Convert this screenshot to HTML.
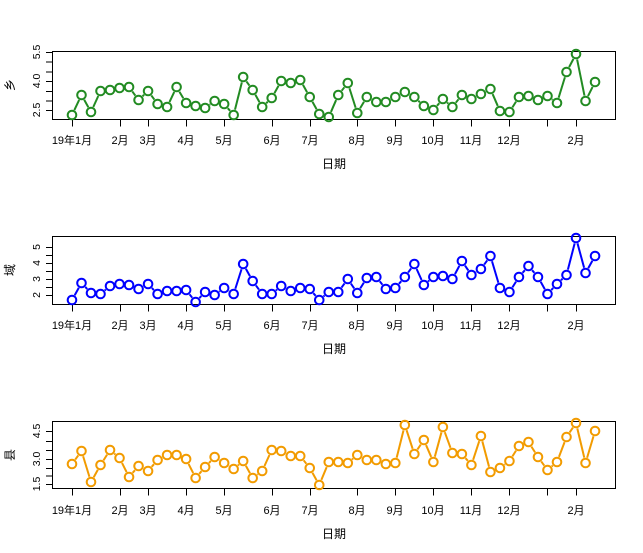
<!DOCTYPE html>
<html><head><meta charset="utf-8"><style>
body{margin:0;background:#fff}
svg{display:block;font-family:"Liberation Sans","Noto Sans CJK SC",sans-serif}
</style></head><body>
<svg id="s" width="643" height="553" xmlns="http://www.w3.org/2000/svg">
<g fill="none" stroke="#000" stroke-width="1">
<rect x="52.5" y="51.5" width="563" height="68"/>
<rect x="52.5" y="236.5" width="563" height="68"/>
<rect x="52.5" y="421.5" width="563" height="67"/>
</g>
<g id="ticks" stroke="#000"></g>
<g font-size="11" fill="#000" text-anchor="middle">
<text x="72" y="144">19年1月</text><text x="120" y="144">2月</text><text x="148" y="144">3月</text><text x="186" y="144">4月</text><text x="224" y="144">5月</text><text x="272" y="144">6月</text><text x="310" y="144">7月</text><text x="357" y="144">8月</text><text x="395" y="144">9月</text><text x="433" y="144">10月</text><text x="471" y="144">11月</text><text x="509" y="144">12月</text><text x="576" y="144">2月</text>
<text x="72" y="329">19年1月</text><text x="120" y="329">2月</text><text x="148" y="329">3月</text><text x="186" y="329">4月</text><text x="224" y="329">5月</text><text x="272" y="329">6月</text><text x="310" y="329">7月</text><text x="357" y="329">8月</text><text x="395" y="329">9月</text><text x="433" y="329">10月</text><text x="471" y="329">11月</text><text x="509" y="329">12月</text><text x="576" y="329">2月</text>
<text x="72" y="514">19年1月</text><text x="120" y="514">2月</text><text x="148" y="514">3月</text><text x="186" y="514">4月</text><text x="224" y="514">5月</text><text x="272" y="514">6月</text><text x="310" y="514">7月</text><text x="357" y="514">8月</text><text x="395" y="514">9月</text><text x="433" y="514">10月</text><text x="471" y="514">11月</text><text x="509" y="514">12月</text><text x="576" y="514">2月</text>
<text x="334" y="168" font-size="12">日期</text>
<text x="334" y="353" font-size="12">日期</text>
<text x="334" y="538" font-size="12">日期</text>
</g>
<g font-size="10.5" fill="#000" text-anchor="middle">
<text transform="translate(40,110) rotate(-90)">2.5</text>
<text transform="translate(40,81) rotate(-90)">4.0</text>
<text transform="translate(40,52) rotate(-90)">5.5</text>
<text transform="translate(40,295) rotate(-90)">2</text>
<text transform="translate(40,279) rotate(-90)">3</text>
<text transform="translate(40,263) rotate(-90)">4</text>
<text transform="translate(40,247) rotate(-90)">5</text>
<text transform="translate(40,484) rotate(-90)">1.5</text>
<text transform="translate(40,459) rotate(-90)">3.0</text>
<text transform="translate(40,431) rotate(-90)">4.5</text>
</g>
<g font-size="12" fill="#000" text-anchor="middle">
<text transform="translate(14,85) rotate(-90)">乡</text>
<text transform="translate(14,270) rotate(-90)">域</text>
<text transform="translate(14,455) rotate(-90)">县</text>
</g>
</svg>
<script>
var s=document.getElementById('s'),NS='http://www.w3.org/2000/svg';
function el(n,a,p){var e=document.createElementNS(NS,n);for(var k in a)e.setAttribute(k,a[k]);(p||s).appendChild(e);return e;}
var tk=document.getElementById('ticks');
var xt=[72,120,148,186,224,272,310,357,395,433,471,509,547,576];
[119.5,304.5,488.5].forEach(function(b){xt.forEach(function(x){el('line',{x1:x+.5,x2:x+.5,y1:b,y2:b+7},tk);});});
[[110,100.5,91,81,71.5,61.5,52],[295,287,279,271,263,255,247],[484,475.5,468,459,450,441,431]].forEach(function(ys){ys.forEach(function(y){el('line',{x1:52.5,x2:46,y1:y+.5,y2:y+.5},tk);});});
var d=[
["#228B22",[115,95,112,91,90,88,87,100,91,104,107,87,103,106,108,101,104,115,77,90,107,98,81,83,80,97,114,117,95,83,113,97,102,102,97,92,97,106,110,99,107,95,99,94,89,111,112,97,96,100,96,103,72,54,101,82]],
["#0000FF",[300,283,293,294,286,284,285,289,284,294,291,291,290,302,292,295,288,294,264,281,294,294,286,291,288,289,300,292,292,279,293,278,277,289,288,277,264,285,277,276,279,261,275,269,256,288,292,277,266,277,294,284,275,238,273,256]],
["#F29B00",[464,451,482,465,450,458,477,466,471,460,455,455,459,478,467,457,463,469,461,478,471,450,451,456,456,468,485,462,462,463,455,460,460,464,463,425,454,440,462,427,453,454,465,436,472,468,461,446,442,457,470,462,437,423,463,431]]];
d.forEach(function(r){var c=r[0],v=r[1],pts=[];v.forEach(function(y,i){pts.push([72+i*9.51,y]);});
for(var i=0;i<pts.length-1;i++){var a=pts[i],b=pts[i+1],dx=b[0]-a[0],dy=b[1]-a[1],L=Math.hypot(dx,dy);if(L>11){var ux=dx/L,uy=dy/L;el('line',{x1:a[0]+ux*5.5,y1:a[1]+uy*5.5,x2:b[0]-ux*5.5,y2:b[1]-uy*5.5,stroke:c,'stroke-width':2});}}
pts.forEach(function(p){el('circle',{cx:p[0],cy:p[1],r:4.3,fill:'none',stroke:c,'stroke-width':2});});});
</script>
</body></html>
